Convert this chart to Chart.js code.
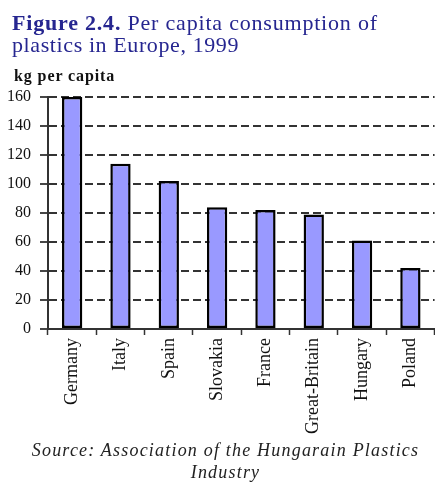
<!DOCTYPE html>
<html>
<head>
<meta charset="utf-8">
<script src="https://cdn.jsdelivr.net/npm/chart.js@4"></script>
<style>
  html, body { margin: 0; padding: 0; background: #fff; }
  #wrap { position: relative; width: 435px; height: 483px; overflow: hidden; }
  #chartBox { position: absolute; left: 0; top: 0; width: 435px; height: 483px; }
  .title { position: absolute; left: 12px; font-family: "Liberation Serif", "Times New Roman", serif; font-size: 22px; line-height: 22px; color: #262690; white-space: nowrap; letter-spacing: 0.6px; }
  .unit { position: absolute; left: 14px; top: 68px; font-family: "Liberation Serif", serif; font-weight: bold; font-size: 16px; line-height: 16px; color: #111; letter-spacing: 0.9px; white-space: nowrap; }
  .src { position: absolute; left: 0; width: 451px; text-align: center; font-family: "Liberation Serif", serif; font-style: italic; font-size: 18px; line-height: 18px; color: #222; letter-spacing: 1.2px; white-space: nowrap; }
</style>
</head>
<body>
<div id="wrap">
  <div id="chartBox"><canvas id="c"></canvas></div>
  <div class="title" style="top:12px; letter-spacing:0.8px;"><b>Figure 2.4.</b> Per capita consumption of</div>
  <div class="title" style="top:34px;">plastics in Europe, 1999</div>
  <div class="unit">kg per capita</div>
  <div class="src" style="top:441px;">Source: Association of the Hungarain Plastics</div>
  <div class="src" style="top:463px;">Industry</div>
</div>
<script>
const categories = ["Germany", "Italy", "Spain", "Slovakia", "France", "Great-Britain", "Hungary", "Poland"];
const consumption = [160, 114, 102, 84, 82, 79, 61, 42];
const yTicks = [0, 20, 40, 60, 80, 100, 120, 140, 160];

new Chart(document.getElementById('c'), {
  type: 'bar',
  data: {
    labels: categories,
    datasets: [{
      data: consumption,
      backgroundColor: '#9999ff',
      borderColor: '#000',
      borderWidth: 2.5,
      borderSkipped: false,
      barPercentage: 0.42,
      categoryPercentage: 1.0
    }]
  },
  options: {
    responsive: true,
    maintainAspectRatio: false,
    animation: false,
    layout: { padding: { top: 97, right: 0, bottom: 0, left: 0 } },
    plugins: { legend: { display: false }, tooltip: { enabled: false } },
    scales: {
      x: {
        afterFit: s => { s.height = 154; },
        grid: { display: true, drawOnChartArea: false, drawTicks: true, tickLength: 6, tickColor: '#333', tickWidth: 1.5, offset: true },
        border: { display: true, color: '#333', width: 2 },
        ticks: {
          autoSkip: false, minRotation: 90, maxRotation: 90, padding: 3,
          color: '#111',
          font: { family: '"Liberation Serif", serif', size: 18 }
        }
      },
      y: {
        min: 0, max: 160,
        afterFit: s => { s.width = 48; },
        afterBuildTicks: s => { s.ticks = yTicks.map(v => ({ value: v })); },
        grid: { color: '#333', lineWidth: 2, drawTicks: true, tickLength: 8, tickColor: '#333', tickWidth: 1.8, tickBorderDash: [] },
        border: { display: true, color: '#333', width: 2, dash: [8, 4] },
        ticks: {
          padding: 9, color: '#111',
          font: { family: '"Liberation Serif", serif', size: 16 }
        }
      }
    }
  }
});
</script>
</body>
</html>
